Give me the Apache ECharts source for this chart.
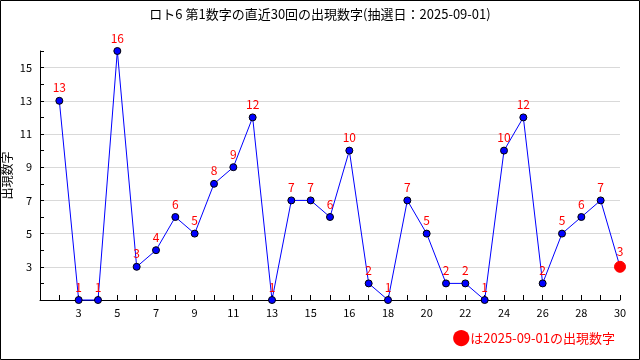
<!DOCTYPE html>
<html><head><meta charset="utf-8">
<script src="https://cdn.jsdelivr.net/npm/echarts@6/dist/echarts.min.js"></script>
<style>html,body{margin:0;padding:0;background:#fff}#c{width:640px;height:360px}</style>
</head><body><div id="c"></div>
<script>
// Data
const draws = [1,2,3,4,5,6,7,8,9,10,11,12,13,14,15,16,17,18,19,20,21,22,23,24,25,26,27,28,29,30];
const values = [13,1,1,16,3,4,6,5,8,9,12,1,7,7,6,10,2,1,7,5,2,2,1,10,12,2,5,6,7,3];
const xTickPositions = [2,4,6,8,10,12,14,16,18,20,22,24,26,28,30];
const xTickTexts = ['3','5','7','9','11','13','15','16','18','20','22','24','26','28','30'];
const yTickLabels = [3,5,7,9,11,13,15];
const titleText = 'ロト6 第1数字の直近30回の出現数字(抽選日：2025-09-01)';
const noteText = 'は2025-09-01の出現数字';
const yName = '出現数字';

const FONT = '"Noto Sans CJK JP", "DejaVu Sans", sans-serif';
const lastIdx = values.length - 1;
const seriesData = draws.map((d, i) => {
  const p = { value: [d, values[i]] };
  if (i === lastIdx) {
    p.symbolSize = 11;
    p.itemStyle = { color: '#ff0000', borderColor: '#ff0000' };
  }
  return p;
});

const chart = echarts.init(document.getElementById('c'), null, { renderer: 'canvas' });
chart.setOption({
  animation: false,
  backgroundColor: '#ffffff',
  title: [
    { text: titleText, left: 'center', top: 3,
      textStyle: { fontFamily: FONT, fontSize: 13, fontWeight: 'normal', color: '#000' } },
    { text: '{a|●}' + noteText, right: 20, top: 324,
      textStyle: { fontFamily: FONT, fontSize: 13, fontWeight: 'normal', color: '#ff0000',
        rich: { a: { fontSize: 18, color: '#ff0000', fontFamily: FONT } } } }
  ],
  graphic: [{
    type: 'rect', shape: { x: 0.5, y: 0.5, width: 639, height: 359 },
    style: { fill: 'none', stroke: '#000', lineWidth: 1 }, silent: true
  }],
  grid: { left: 40, right: 20, top: 51, bottom: 60, containLabel: false, outerBoundsMode: 'none' },
  xAxis: {
    type: 'value', min: 0, max: 30, interval: 1,
    axisLine: { lineStyle: { color: '#000', width: 1 } },
    axisTick: { inside: true, length: 5, lineStyle: { color: '#000' } },
    axisLabel: {
      margin: 7, color: '#000', fontSize: 11, fontFamily: FONT,
      formatter: v => { const k = xTickPositions.indexOf(v); return k >= 0 ? xTickTexts[k] : ''; }
    },
    splitLine: { show: false }
  },
  yAxis: {
    type: 'value', min: 1, max: 16, interval: 1,
    name: yName, nameLocation: 'middle', nameRotate: 90, nameGap: 27, nameMoveOverlap: false,
    nameTextStyle: { fontFamily: FONT, fontSize: 12, color: '#000' },
    axisLine: { show: true, lineStyle: { color: '#000', width: 1 } },
    axisTick: { show: true, inside: true, length: 4, lineStyle: { color: '#000' } },
    axisLabel: {
      margin: 8, color: '#000', fontSize: 11, fontFamily: FONT,
      formatter: v => yTickLabels.indexOf(v) >= 0 ? String(v) : ''
    },
    splitLine: { show: true, lineStyle: { color: ['#d9d9d9', 'rgba(0,0,0,0)'], width: 1 } }
  },
  series: [{
    type: 'line',
    data: seriesData,
    symbol: 'circle',
    symbolSize: 7,
    lineStyle: { color: '#0000ff', width: 1 },
    itemStyle: { color: '#0000ff', borderColor: '#000', borderWidth: 1 },
    label: { show: true, position: 'top', distance: 3, color: '#ff0000', fontSize: 12,
      fontFamily: FONT, formatter: p => String(p.value[1]) },
    clip: false,
    z: 3
  }]
});
</script>
</body></html>
